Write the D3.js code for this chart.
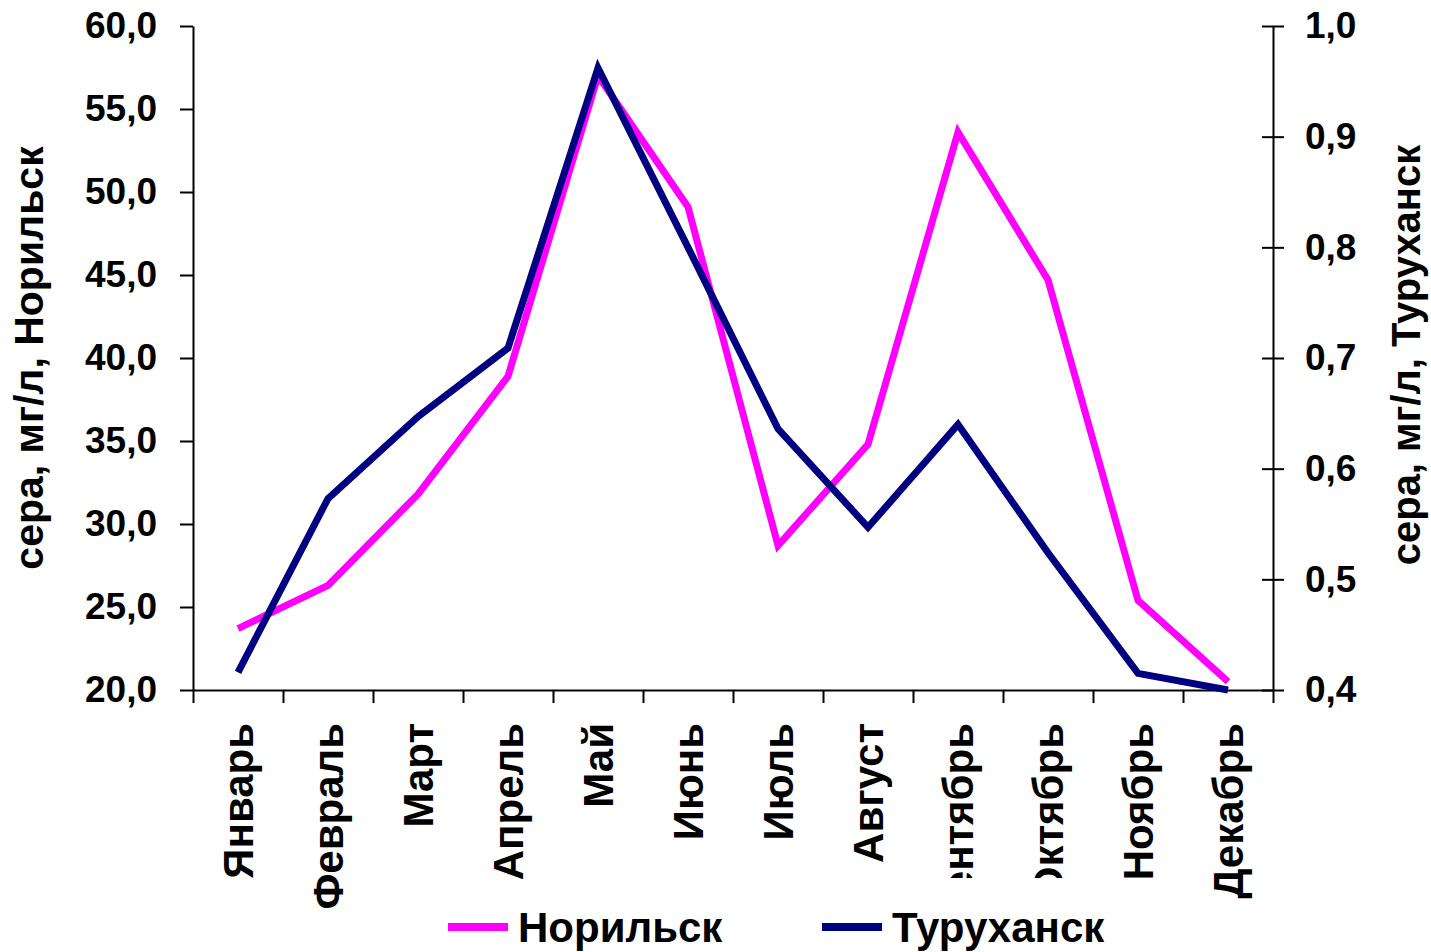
<!DOCTYPE html>
<html>
<head>
<meta charset="utf-8">
<script src="https://cdn.jsdelivr.net/npm/d3@7"></script>
<style>
  body { margin: 0; background: #fff; }
  svg { display: block; font-family: "Liberation Sans", Arial, sans-serif; }
</style>
</head>
<body>
<div id="chart"></div>
<script>
const months = ["Январь", "Февраль", "Март", "Апрель", "Май", "Июнь", "Июль", "Август", "Сентябрь", "Октябрь", "Ноябрь", "Декабрь"]
const norilsk = [23.7, 26.3, 31.8, 38.9, 57.0, 49.1, 28.7, 34.8, 53.6, 44.7, 25.4, 20.5]
const turukhansk = [0.416, 0.573, 0.647, 0.709, 0.962, 0.80, 0.636, 0.547, 0.64, 0.524, 0.415, 0.40]
const leftTicks = [20, 25, 30, 35, 40, 45, 50, 55, 60]
const rightTicks = [0.4, 0.5, 0.6, 0.7, 0.8, 0.9, 1.0]
const seriesNames = ["Норильск", "Туруханск"]
const colors = ["#ff00ff", "#000080"]

let width = 1431, height = 952
let plot = {left: 193, right: 1273, top: 26, bottom: 690}

let svg = d3.select("#chart").append("svg")
    .attr("width", width).attr("height", height)

svg.append("rect").attr("width", width).attr("height", height).attr("fill", "#fff")

let xScale = d3.scalePoint().domain(months).range([plot.left, plot.right]).padding(0.5)
let xEdges = d3.scaleLinear().domain([0, months.length]).range([plot.left, plot.right])
let yLeft = d3.scaleLinear().domain([20, 60]).range([plot.bottom, plot.top])
let yRight = d3.scaleLinear().domain([0.4, 1.0]).range([plot.bottom, plot.top])

let comma = d => d.toFixed(1).replace(".", ",")

// left axis
let gl = svg.append("g").attr("transform", "translate(" + plot.left + ",0)")
    .call(d3.axisLeft(yLeft).tickValues(leftTicks).tickSize(13).tickSizeOuter(0).tickPadding(23).tickFormat(comma))
gl.selectAll("text").style("font-size", "37px").style("font-weight", "bold").attr("fill", "#000")
gl.selectAll("line, path").attr("stroke", "#000").attr("stroke-width", 2)

// right axis, ticks cross the line
let gr = svg.append("g").attr("transform", "translate(" + plot.right + ",0)")
    .call(d3.axisRight(yRight).tickValues(rightTicks).tickSize(11).tickSizeOuter(0).tickPadding(21).tickFormat(comma))
gr.selectAll(".tick line").attr("x1", -11)
gr.selectAll("text").style("font-size", "37px").style("font-weight", "bold").attr("fill", "#000")
gr.selectAll("line, path").attr("stroke", "#000").attr("stroke-width", 2)

// bottom axis with ticks between the categories
let gb = svg.append("g").attr("transform", "translate(0," + plot.bottom + ")")
    .call(d3.axisBottom(xEdges).tickValues(d3.range(months.length + 1)).tickSize(13).tickSizeOuter(0).tickFormat(""))
gb.selectAll("line, path").attr("stroke", "#000").attr("stroke-width", 2)

// month labels, the long ones get cut off like in the original
svg.append("clipPath").attr("id", "cut")
    .append("rect").attr("x", 0).attr("y", 700).attr("width", width).attr("height", 178)

let labels = svg.append("g").selectAll("g")
    .data(months)
    .enter()
    .append("g")
    .attr("clip-path", d => (d === "Сентябрь" || d === "Октябрь") ? "url(#cut)" : null)
labels.append("text")
    .attr("transform", d => "translate(" + xScale(d) + ",723)rotate(-90)")
    .attr("dy", "0.36em")
    .attr("text-anchor", "end")
    .style("font-size", "42px").style("font-weight", "bold")
    .text(d => d)

// lines
let allSeries = [norilsk, turukhansk]
let scales = [yLeft, yRight]
for (let i = 0; i < allSeries.length; i++){
    let line = d3.line()
        .x((d, j) => xScale(months[j]))
        .y(d => scales[i](d))
    svg.append("path")
        .datum(allSeries[i])
        .attr("d", line)
        .attr("fill", "none")
        .attr("stroke", colors[i])
        .attr("stroke-width", 7)
        .attr("stroke-linejoin", "miter")
}

// axis titles
svg.append("text").attr("transform", "translate(29,358)rotate(-90)")
    .attr("text-anchor", "middle").attr("dy", "0.35em")
    .style("font-size", "41px").style("font-weight", "bold")
    .text("сера, мг/л, " + seriesNames[0])
svg.append("text").attr("transform", "translate(1406,355)rotate(-90)")
    .attr("text-anchor", "middle").attr("dy", "0.35em")
    .style("font-size", "40px").style("font-weight", "bold")
    .text("сера, мг/л, " + seriesNames[1])

// legend
let legendX = [448, 822]
for (let i = 0; i < seriesNames.length; i++){
    svg.append("line")
        .attr("x1", legendX[i]).attr("x2", legendX[i] + 60)
        .attr("y1", 927).attr("y2", 927)
        .attr("stroke", colors[i]).attr("stroke-width", 8)
    svg.append("text")
        .attr("x", legendX[i] + 70).attr("y", 942)
        .style("font-size", "42px").style("font-weight", "bold")
        .text(seriesNames[i])
}
</script>
</body>
</html>
